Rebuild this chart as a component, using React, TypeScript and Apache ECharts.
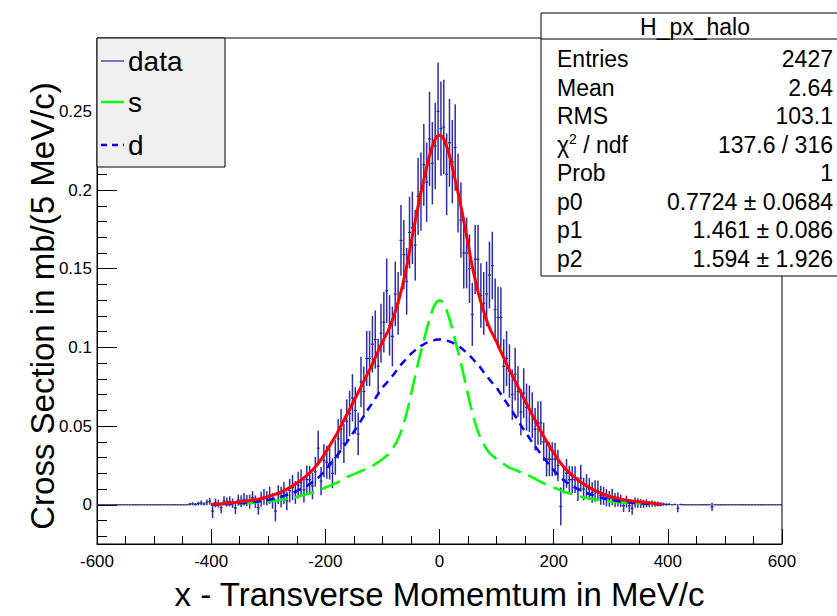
import React, { useEffect, useRef } from 'react';
import * as echarts from 'echarts';

const FONT = '"Liberation Sans", Arial, Helvetica, sans-serif';

// Histogram: 240 bins of 5 MeV/c from -600 to 600
const BIN_WIDTH = 5;
const FIRST_BIN_CENTER = -597.5;

const DATA_VALUES = [
  0, 0, 0, 0, 0, 0, 0, 0, 0, 0,
  0, 0, 0, 0, 0, 0, 0, 0, 0, 0,
  0, 0, 0, 0, 0, 0, 0, 0, 0, 0,
  0, 0, 0.0004, 0.0006, 0.0003, 0.0008, 0.0012, 0.0005, 0.0016, 0.0022,
  -0.004, 0.0012, 0.0008, -0.0018, 0.0025, 0.0018, 0.0022, 0.001, -0.002, 0.003,
  0.0022, 0.0035, 0.0028, 0.002, 0.0045, 0.002, -0.0018, 0.0035, 0.005, 0.0042,
  0.006, 0.0025, -0.004, 0.0065, 0.005, 0.0075, 0.0025, 0.009, 0.011, 0.0078,
  0.0125, 0.014, 0.0095, 0.016, 0.016, 0.012, 0.021, 0.036, 0.015, 0.028,
  0.027, 0.026, 0.02, 0.03, 0.042, 0.048, 0.039, 0.053, 0.058, 0.068,
  0.06, 0.045, 0.078, 0.072, 0.093, 0.093, 0.102, 0.105, 0.088, 0.109,
  0.116, 0.136, 0.114, 0.107, 0.134, 0.128, 0.168, 0.159, 0.142, 0.173,
  0.176, 0.165, 0.196, 0.199, 0.216, 0.205, 0.2325, 0.217, 0.228, 0.25,
  0.239, 0.24, 0.21, 0.23, 0.218, 0.227, 0.198, 0.181, 0.16, 0.16,
  0.15, 0.121, 0.156, 0.156, 0.133, 0.128, 0.134, 0.146, 0.152, 0.124,
  0.119, 0.119, 0.088, 0.093, 0.085, 0.07, 0.083, 0.072, 0.059, 0.071,
  0.062, 0.061, 0.057, 0.048, 0.052, 0.052, 0.04, 0.029, 0.029, 0.029,
  0.029, 0.025, -0.001, 0.016, 0.02, 0.016, 0.016, 0.016, 0.01, 0.017,
  0.01, 0.012, 0.01, 0.0078, 0.0088, 0.009, 0.006, 0.0057, 0.0045, 0.0038,
  0.005, 0.003, 0.0035, 0.0025, -0.0006, 0.002, -0.0006, -0.0023, 0.0015, 0.0012,
  0.0008, 0.0006, 0.001, 0.0004, 0.0008, 0.0005, 0.0006, 0.0003, 0.0004, 0.0002,
  0.0003, 0, 0.0002, -0.0022, 0.0002, 0, 0, 0, 0, 0,
  0, 0, 0, 0, 0, -0.0012, 0, 0, 0, 0,
  0, 0, 0, 0, 0, 0, 0, 0, 0, 0,
  0, 0, 0, 0, 0, 0, 0, 0, 0, 0,
];

const DATA_ERRORS = [
  0, 0, 0, 0, 0, 0, 0, 0, 0, 0,
  0, 0, 0, 0, 0, 0, 0, 0, 0, 0,
  0, 0, 0, 0, 0, 0, 0, 0, 0, 0,
  0, 0, 0.0008, 0.001, 0.0008, 0.0012, 0.0015, 0.001, 0.0018, 0.0022,
  0.0045, 0.0028, 0.0025, 0.0035, 0.003, 0.0028, 0.0032, 0.003, 0.004, 0.0035,
  0.0038, 0.004, 0.0035, 0.0045, 0.0042, 0.004, 0.0045, 0.0048, 0.005, 0.0045,
  0.0055, 0.005, 0.0065, 0.006, 0.0065, 0.007, 0.006, 0.0075, 0.008, 0.0072,
  0.0085, 0.0085, 0.008, 0.009, 0.0088, 0.0085, 0.0095, 0.011, 0.009, 0.0105,
  0.0105, 0.01, 0.0095, 0.011, 0.0125, 0.013, 0.0125, 0.014, 0.0145, 0.015,
  0.0148, 0.0135, 0.016, 0.0158, 0.0175, 0.0175, 0.018, 0.0185, 0.0175, 0.0188,
  0.0192, 0.0205, 0.0192, 0.019, 0.0205, 0.02, 0.0225, 0.022, 0.0212, 0.0228,
  0.023, 0.0225, 0.0245, 0.0248, 0.026, 0.0252, 0.03, 0.0262, 0.0275, 0.031,
  0.03, 0.03, 0.026, 0.028, 0.0265, 0.0275, 0.025, 0.024, 0.0225, 0.0225,
  0.0218, 0.02, 0.022, 0.022, 0.0205, 0.02, 0.0205, 0.0212, 0.0215, 0.0198,
  0.0195, 0.0192, 0.0172, 0.0175, 0.017, 0.016, 0.0168, 0.016, 0.0148, 0.0158,
  0.015, 0.0148, 0.0145, 0.0135, 0.0138, 0.0138, 0.0122, 0.011, 0.0108, 0.0108,
  0.0105, 0.01, 0.012, 0.0088, 0.0092, 0.0088, 0.0085, 0.0085, 0.0075, 0.0085,
  0.0072, 0.0075, 0.007, 0.0065, 0.0068, 0.0065, 0.006, 0.0058, 0.0055, 0.005,
  0.0052, 0.0045, 0.0045, 0.004, 0.004, 0.0038, 0.004, 0.004, 0.0032, 0.003,
  0.0028, 0.0025, 0.0025, 0.002, 0.002, 0.0018, 0.0015, 0.0012, 0.001, 0.0008,
  0.0006, 0, 0.0005, 0.0025, 0.0004, 0, 0, 0, 0, 0,
  0, 0, 0, 0, 0, 0.0025, 0, 0, 0, 0,
  0, 0, 0, 0, 0, 0, 0, 0, 0, 0,
  0, 0, 0, 0, 0, 0, 0, 0, 0, 0,
];

// Fit curves sampled along x
const CURVE_X = [
  -400, -380, -360, -340, -320,
  -300, -290, -280, -270, -260, -250, -240, -230, -220, -210,
  -200, -190, -180, -170, -160, -150, -140, -130, -120, -110,
  -100, -95, -90, -85, -80, -75, -70, -65, -60, -55,
  -50, -45, -40, -35, -30, -25, -20, -15, -10, -5,
  0, 5, 10, 15, 20, 25, 30, 35, 40, 45,
  50, 55, 60, 65, 70, 75, 80, 85, 90, 95,
  100, 110, 120, 130, 140, 150, 160, 170, 180, 190,
  200, 210, 220, 230, 240, 250, 260, 270, 280, 290,
  300, 320, 340, 360, 380, 390,
];

const CURVE_S = [
  0.0002, 0.0004, 0.0007, 0.001, 0.0014,
  0.002, 0.0025, 0.003, 0.0035, 0.0042, 0.005, 0.006, 0.007, 0.008, 0.0095,
  0.011, 0.0125, 0.014, 0.016, 0.018, 0.0195, 0.021, 0.0225, 0.024, 0.0265,
  0.029, 0.0305, 0.032, 0.034, 0.037, 0.04, 0.044, 0.049, 0.055, 0.062,
  0.07, 0.078, 0.086, 0.094, 0.101, 0.108, 0.115, 0.121, 0.126, 0.129,
  0.13, 0.129, 0.126, 0.121, 0.115, 0.108, 0.101, 0.094, 0.086, 0.078,
  0.07, 0.062, 0.055, 0.049, 0.044, 0.04, 0.037, 0.034, 0.032, 0.0305,
  0.029, 0.0265, 0.024, 0.0225, 0.021, 0.0195, 0.018, 0.016, 0.014, 0.0125,
  0.011, 0.0095, 0.008, 0.007, 0.006, 0.005, 0.0042, 0.0035, 0.003, 0.0025,
  0.002, 0.0014, 0.001, 0.0007, 0.0004, 0.0003,
];

const CURVE_D = [
  0.0001, 0.0003, 0.0007, 0.0012, 0.002,
  0.0031, 0.0039, 0.0048, 0.006, 0.0072, 0.0088, 0.0105, 0.0125, 0.015, 0.018,
  0.022, 0.0265, 0.031, 0.036, 0.041, 0.0465, 0.052, 0.058, 0.0635, 0.069,
  0.0745, 0.0765, 0.0785, 0.0808, 0.083, 0.0855, 0.088, 0.09, 0.092, 0.094,
  0.096, 0.0975, 0.099, 0.1005, 0.1015, 0.1025, 0.1035, 0.104, 0.1045, 0.105,
  0.105, 0.105, 0.1045, 0.104, 0.1035, 0.1025, 0.1015, 0.1005, 0.099, 0.0975,
  0.096, 0.094, 0.092, 0.09, 0.088, 0.0855, 0.083, 0.0808, 0.0785, 0.0765,
  0.0745, 0.069, 0.0635, 0.058, 0.052, 0.0465, 0.041, 0.036, 0.031, 0.0265,
  0.022, 0.018, 0.015, 0.0125, 0.0105, 0.0088, 0.0072, 0.006, 0.0048, 0.0039,
  0.0031, 0.002, 0.0012, 0.0007, 0.0003, 0.0002,
];

const CURVE_FIT = [
  0.0003, 0.0007, 0.0014, 0.0022, 0.0034,
  0.0051, 0.0064, 0.0078, 0.0095, 0.0114, 0.0138, 0.0165, 0.0195, 0.023, 0.0275,
  0.033, 0.039, 0.045, 0.052, 0.059, 0.066, 0.073, 0.0805, 0.0875, 0.0955,
  0.1035, 0.107, 0.1105, 0.1148, 0.12, 0.1255, 0.132, 0.139, 0.147, 0.156,
  0.166, 0.1755, 0.185, 0.1945, 0.2025, 0.2105, 0.2185, 0.225, 0.2305, 0.234,
  0.235, 0.234, 0.2305, 0.225, 0.2185, 0.2105, 0.2025, 0.1945, 0.185, 0.1755,
  0.166, 0.156, 0.147, 0.139, 0.132, 0.1255, 0.12, 0.1148, 0.1105, 0.107,
  0.1035, 0.0955, 0.0875, 0.0805, 0.073, 0.066, 0.059, 0.052, 0.045, 0.039,
  0.033, 0.0275, 0.023, 0.0195, 0.0165, 0.0138, 0.0114, 0.0095, 0.0078, 0.0064,
  0.0051, 0.0034, 0.0022, 0.0014, 0.0007, 0.0005,
];

const LEGEND_LABELS = ['data', 's', 'd'];
const STAT_TITLE = 'H_px_halo';
const STAT_LABELS = ['Entries', 'Mean', 'RMS', '{n|χ}{sup|2}{n| / ndf}', 'Prob', 'p0', 'p1', 'p2'];
const STAT_VALUES = ['2427', '2.64', '103.1', '137.6 / 316', '1', '0.7724 ± 0.0684', '1.461 ± 0.086', '1.594 ± 1.926'];

const X_TITLE = 'x - Transverse Momemtum in MeV/c';
const Y_TITLE = 'Cross Section in mb/(5 MeV/c)';

export default function App() {
  const ref = useRef<HTMLDivElement>(null);

  useEffect(() => {
    if (!ref.current) return;
    const chart = echarts.init(ref.current, undefined, { renderer: 'svg' });

    const histData = DATA_VALUES.map((v, i) => [FIRST_BIN_CENTER + i * BIN_WIDTH, v, DATA_ERRORS[i]]);
    const pair = (ys: number[]) => CURVE_X.map((x, i) => [x, ys[i]]);

    const legendRows = [61, 102, 145];
    const statY0 = 59;
    const statStep = 28.5;
    const graphics: any[] = [
      {
        type: 'rect', z: 100,
        shape: { x: 97, y: 38, width: 128, height: 129 },
        style: { fill: '#f0f0f0', stroke: '#000', lineWidth: 1 },
      },
      {
        type: 'line', z: 101,
        shape: { x1: 101, y1: legendRows[0], x2: 124, y2: legendRows[0] },
        style: { stroke: '#4b4bc4', lineWidth: 1.5 },
      },
      {
        type: 'line', z: 101,
        shape: { x1: 101, y1: legendRows[1], x2: 124, y2: legendRows[1] },
        style: { stroke: '#00ff00', lineWidth: 2.5 },
      },
      {
        type: 'line', z: 101,
        shape: { x1: 101, y1: legendRows[2], x2: 124, y2: legendRows[2] },
        style: { stroke: '#0000ff', lineWidth: 2.5, lineDash: [6, 5] },
      },
      ...LEGEND_LABELS.map((t, i) => ({
        type: 'text', z: 101, x: 128, y: legendRows[i],
        style: { text: t, fontSize: 28, fontFamily: FONT, fill: '#000', align: 'left', verticalAlign: 'middle' },
      })),
      {
        type: 'rect', z: 100,
        shape: { x: 541, y: 13, width: 330, height: 263 },
        style: { fill: '#fff', stroke: '#000', lineWidth: 1 },
      },
      {
        type: 'line', z: 101,
        shape: { x1: 541, y1: 39, x2: 837, y2: 39 },
        style: { stroke: '#000', lineWidth: 1 },
      },
      {
        type: 'text', z: 101, x: 695, y: 27,
        style: { text: STAT_TITLE, fontSize: 23, fontFamily: FONT, fill: '#000', align: 'center', verticalAlign: 'middle' },
      },
      ...STAT_LABELS.map((t, i) => ({
        type: 'text', z: 101, x: 557, y: statY0 + i * statStep,
        style: {
          text: t, fontSize: 23, fontFamily: FONT, fill: '#000', align: 'left', verticalAlign: 'middle',
          rich: {
            n: { fontSize: 23, fontFamily: FONT, fill: '#000', lineHeight: 26 },
            sup: { fontSize: 14, fontFamily: FONT, fill: '#000', verticalAlign: 'top', lineHeight: 26 },
          },
        },
      })),
      ...STAT_VALUES.map((t, i) => ({
        type: 'text', z: 101, x: 833, y: statY0 + i * statStep,
        style: { text: t, fontSize: 23, fontFamily: FONT, fill: '#000', align: 'right', verticalAlign: 'middle' },
      })),
      {
        type: 'text', z: 101, x: 42, y: 306, rotation: Math.PI / 2,
        style: { text: Y_TITLE, fontSize: 33, fontFamily: FONT, fill: '#000', align: 'center', verticalAlign: 'middle' },
      },
    ];

    chart.setOption({
      animation: false,
      backgroundColor: '#fff',
      textStyle: { fontFamily: FONT },
      grid: {
        left: 97, top: 38, width: 685, height: 517,
        show: true, borderColor: '#000', borderWidth: 1, backgroundColor: 'transparent',
      },
      xAxis: {
        type: 'value', min: -600, max: 600, interval: 200,
        axisLine: { show: true, onZero: false, lineStyle: { color: '#000', width: 1 } },
        axisTick: { show: true, inside: true, length: 15, lineStyle: { color: '#000', width: 1 } },
        minorTick: { show: true, splitNumber: 4, length: 8, lineStyle: { color: '#000', width: 1 } },
        axisLabel: { color: '#000', fontSize: 17, fontFamily: FONT, margin: 9 },
        splitLine: { show: false },
        minorSplitLine: { show: false },
        name: X_TITLE, nameLocation: 'middle', nameGap: 34,
        nameTextStyle: { fontSize: 33, color: '#000', fontFamily: FONT },
      },
      yAxis: {
        type: 'value', min: -0.0249, max: 0.2966, splitNumber: 6, minInterval: 0.05, maxInterval: 0.05,
        axisLine: { show: true, onZero: false, lineStyle: { color: '#000', width: 1 } },
        axisTick: { show: true, inside: true, length: 20, lineStyle: { color: '#000', width: 1 } },
        minorTick: { show: true, splitNumber: 5, length: 10, lineStyle: { color: '#000', width: 1 } },
        axisLabel: {
          color: '#000', fontSize: 17, fontFamily: FONT, margin: 5,
          showMinLabel: false, showMaxLabel: false,
          formatter: (v: number) => {
            const k = v / 0.05;
            if (Math.abs(k - Math.round(k)) > 1e-6) return '';
            return String(parseFloat(v.toFixed(3)));
          },
        },
        splitLine: { show: false },
      },
      series: [
        {
          type: 'custom', name: 'data', z: 2,
          data: histData,
          encode: { x: 0, y: 1 },
          renderItem: (_params: any, api: any) => {
            const x = api.value(0);
            const v = api.value(1);
            const e = api.value(2);
            const l = api.coord([x - BIN_WIDTH / 2, v]);
            const r = api.coord([x + BIN_WIDTH / 2, v]);
            const children: any[] = [
              { type: 'line', shape: { x1: l[0], y1: l[1], x2: r[0], y2: r[1] }, style: { stroke: '#10106e', lineWidth: 1.2 } },
            ];
            if (e > 0) {
              const t = api.coord([x, v + e]);
              const b = api.coord([x, v - e]);
              children.push({ type: 'line', shape: { x1: t[0], y1: t[1], x2: b[0], y2: b[1] }, style: { stroke: '#2d2dab', lineWidth: 1.5 } });
            }
            return { type: 'group', children };
          },
        },
        {
          type: 'line', name: 's', data: pair(CURVE_S), showSymbol: false, z: 3,
          lineStyle: { color: '#00ff00', width: 2.5, type: [20, 8] },
        },
        {
          type: 'line', name: 'd', data: pair(CURVE_D), showSymbol: false, z: 3,
          lineStyle: { color: '#0000ff', width: 2.5, type: [8, 6] },
        },
        {
          type: 'line', name: 'fit', data: pair(CURVE_FIT), showSymbol: false, z: 4,
          lineStyle: { color: '#ff0000', width: 3 },
        },
      ],
      graphic: graphics,
    });

    return () => chart.dispose();
  }, []);

  return (
    <div
      ref={ref}
      style={{ position: 'absolute', left: 0, top: 0, width: 837, height: 616, background: '#fff' }}
    />
  );
}
